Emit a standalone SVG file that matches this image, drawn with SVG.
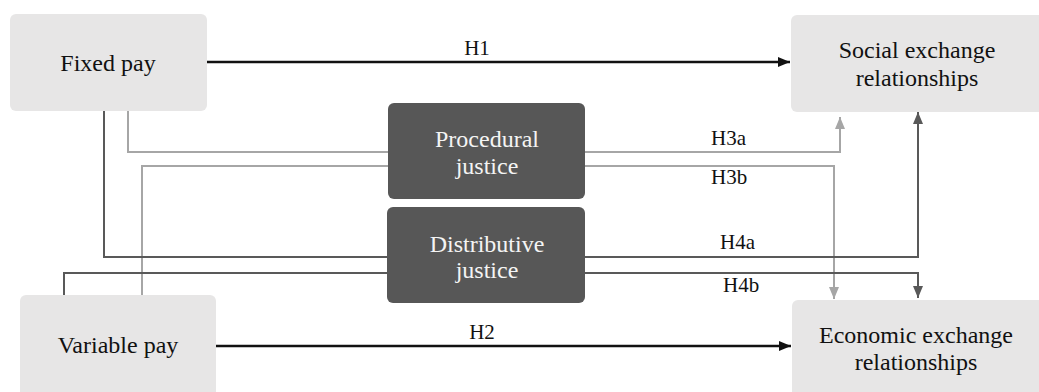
<svg xmlns="http://www.w3.org/2000/svg" width="1039" height="392" viewBox="0 0 1039 392">
  <style>
    .light { fill: #e7e6e6; }
    .dark { fill: #575757; }
    .t { font-family: "Liberation Serif", "Times New Roman", serif; font-size: 24px; text-anchor: middle; fill: #111; }
    .tw { font-family: "Liberation Serif", "Times New Roman", serif; font-size: 24px; text-anchor: middle; fill: #f4f4f4; }
    .lab { font-family: "Liberation Serif", "Times New Roman", serif; font-size: 21px; fill: #111; }
    .cb { fill: none; stroke: #111; stroke-width: 2.5; }
    .cg { fill: none; stroke: #a6a6a6; stroke-width: 2; }
    .cd { fill: none; stroke: #595959; stroke-width: 2; }
  </style>
  <defs>
    <marker id="ab" markerUnits="userSpaceOnUse" markerWidth="12" markerHeight="12" viewBox="0 0 12 12" refX="12" refY="6" orient="auto">
      <path d="M0,1 L12,6 L0,11 Z" fill="#111"/>
    </marker>
    <marker id="ag" markerUnits="userSpaceOnUse" markerWidth="12" markerHeight="12" viewBox="0 0 12 12" refX="12" refY="6" orient="auto">
      <path d="M0,1 L12,6 L0,11 Z" fill="#a6a6a6"/>
    </marker>
    <marker id="ad" markerUnits="userSpaceOnUse" markerWidth="12" markerHeight="12" viewBox="0 0 12 12" refX="12" refY="6" orient="auto">
      <path d="M0,1 L12,6 L0,11 Z" fill="#595959"/>
    </marker>
  </defs>

  <g id="connectors">
    <path id="h1" class="cb" d="M207,62 H790" marker-end="url(#ab)"/>
    <path id="h2" class="cb" d="M216,346 H791" marker-end="url(#ab)"/>
    <path id="h3a" class="cg" d="M128,111 V152 H840 V117" marker-end="url(#ag)"/>
    <path id="h3b" class="cg" d="M142,295 V166 H834 V299" marker-end="url(#ag)"/>
    <path id="h4a" class="cd" d="M104,111 V257 H918 V112" marker-end="url(#ad)"/>
    <path id="h4b" class="cd" d="M64,295 V273 H918 V298" marker-end="url(#ad)"/>
    <text class="lab" x="477" y="55" text-anchor="middle">H1</text>
    <text class="lab" x="482" y="339" text-anchor="middle">H2</text>
    <text class="lab" x="711" y="145">H3a</text>
    <text class="lab" x="711" y="184">H3b</text>
    <text class="lab" x="720" y="249">H4a</text>
    <text class="lab" x="723" y="292">H4b</text>
  </g>

  <g id="fixed-pay">
    <rect class="light" x="10" y="14" width="197" height="97" rx="6"/>
    <text class="t" x="108" y="71">Fixed pay</text>
  </g>
  <g id="variable-pay">
    <rect class="light" x="20" y="295" width="196" height="110" rx="6"/>
    <text class="t" x="118" y="353">Variable pay</text>
  </g>
  <g id="procedural-justice">
    <rect class="dark" x="388" y="103" width="197" height="96" rx="6"/>
    <text class="tw" x="487" y="147">Procedural</text>
    <text class="tw" x="487" y="174">justice</text>
  </g>
  <g id="distributive-justice">
    <rect class="dark" x="387" y="207" width="198" height="96" rx="6"/>
    <text class="tw" x="487" y="252">Distributive</text>
    <text class="tw" x="487" y="278">justice</text>
  </g>
  <g id="social-exchange">
    <rect class="light" x="791" y="15" width="260" height="97" rx="6"/>
    <text class="t" x="917" y="58">Social exchange</text>
    <text class="t" x="917" y="86">relationships</text>
  </g>
  <g id="economic-exchange">
    <rect class="light" x="792" y="300" width="260" height="110" rx="6"/>
    <text class="t" x="916" y="343">Economic exchange</text>
    <text class="t" x="916" y="370">relationships</text>
  </g>
</svg>
